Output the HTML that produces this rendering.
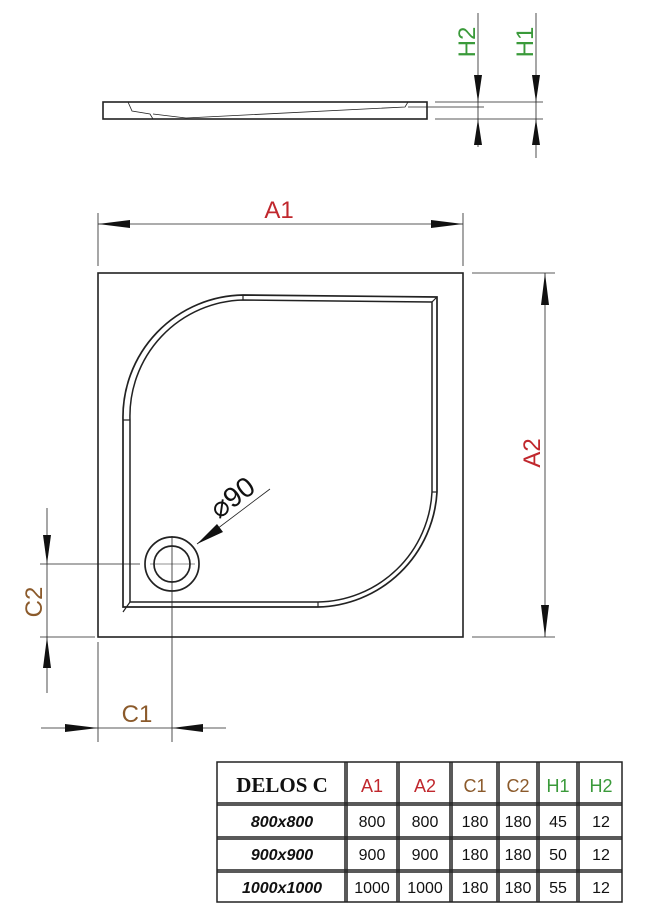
<!DOCTYPE html>
<html><head><style>
body{margin:0;background:#fff;}
svg{display:block;}
</style></head><body>
<svg width="650" height="915" xmlns="http://www.w3.org/2000/svg" font-family="Liberation Sans, sans-serif">
<g stroke="#222" fill="none" stroke-width="1.2">
<!-- side view -->
<rect x="103" y="102" width="324" height="17" stroke-width="1.6"/>
<path d="M128 102 L132 111 L150 114 L153 119 M153 114 L186 118 M408 102 L405 107 L186 118" stroke-width="0.8"/>
<line x1="408" y1="107" x2="484" y2="107" stroke-width="0.8"/>
<line x1="435" y1="102" x2="543" y2="102" stroke-width="0.8"/>
<line x1="435" y1="119" x2="543" y2="119" stroke-width="0.8"/>
<line x1="478" y1="13" x2="478" y2="147" stroke-width="0.8"/>
<line x1="536" y1="13" x2="536" y2="158" stroke-width="0.8"/>
<!-- main square -->
<rect x="98" y="273" width="365" height="364" stroke-width="1.6"/>
<!-- inner shape -->
<path d="M243 295 L437 297 L437 492 A122 122 0 0 1 318 607 L123 607 L123 420 A122 122 0 0 1 243 295 Z" stroke-width="1.7"/>
<path d="M243 300 L432 302 L432 492 A116 116 0 0 1 318 602 L130 602 L130 420 A116 116 0 0 1 243 300 Z" stroke-width="1.5"/>
<line x1="243" y1="295" x2="243" y2="300"/><line x1="437" y1="492" x2="432" y2="492"/>
<line x1="318" y1="607" x2="318" y2="602"/><line x1="123" y1="420" x2="130" y2="420"/>
<line x1="437" y1="297" x2="432" y2="302"/><line x1="123" y1="612" x2="130" y2="602"/>
<!-- drain -->
<circle cx="172" cy="564" r="27" stroke-width="1.7"/>
<circle cx="172" cy="564" r="18" stroke-width="1.7"/>
<line x1="172" y1="536" x2="172" y2="742" stroke-width="0.8"/>
<line x1="40" y1="564" x2="140" y2="564" stroke-width="0.8"/>
<line x1="150" y1="564" x2="195" y2="564" stroke-width="0.6"/>
<line x1="270" y1="489" x2="197" y2="544" stroke-width="0.8"/>
<!-- dims -->
<line x1="98" y1="213" x2="98" y2="266" stroke-width="0.8"/>
<line x1="463" y1="213" x2="463" y2="266" stroke-width="0.8"/>
<line x1="98" y1="224" x2="463" y2="224" stroke-width="0.8"/>
<line x1="472" y1="273" x2="555" y2="273" stroke-width="0.8"/>
<line x1="472" y1="637" x2="555" y2="637" stroke-width="0.8"/>
<line x1="545" y1="273" x2="545" y2="637" stroke-width="0.8"/>
<line x1="47" y1="508" x2="47" y2="693" stroke-width="0.8"/>
<line x1="40" y1="637" x2="95" y2="637" stroke-width="0.8"/>
<line x1="98" y1="642" x2="98" y2="742" stroke-width="0.8"/>
<line x1="41" y1="728" x2="226" y2="728" stroke-width="0.8"/>
</g>
<g fill="#111">
<polygon points="478,102 474,75 482,75"/><polygon points="478,119 474,145 482,145"/>
<polygon points="536,102 532,75 540,75"/><polygon points="536,119 532,145 540,145"/>
<polygon points="98,224 130,220 130,228"/><polygon points="463,224 431,220 431,228"/>
<polygon points="545,273 541,305 549,305"/><polygon points="545,637 541,605 549,605"/>
<polygon points="47,564 43,535 51,535"/><polygon points="47,637 43,668 51,668"/>
<polygon points="98,728 65,724 65,732"/><polygon points="172,728 203,724 203,732"/>
<polygon points="197,544 217,524 223,532"/>
</g>
<g font-size="24" text-anchor="middle">
<text transform="translate(475,42) rotate(-90)" fill="#3a9a3a">H2</text>
<text transform="translate(533,42) rotate(-90)" fill="#3a9a3a">H1</text>
<text x="279" y="218" fill="#c0272d">A1</text>
<text transform="translate(540,453) rotate(-90)" fill="#c0272d">A2</text>
<text transform="translate(42,602) rotate(-90)" fill="#8b5a2b">C2</text>
<text x="137" y="722" fill="#8b5a2b">C1</text>
<text transform="translate(238,505) rotate(-37)" fill="#111" font-size="28">⌀90</text>
</g>
<!-- table -->
<g stroke="#222" fill="none" stroke-width="1.5">
<rect x="217" y="762" width="405" height="140"/>
<line x1="217" y1="803" x2="622" y2="803"/><line x1="217" y1="805" x2="622" y2="805"/>
<line x1="217" y1="837" x2="622" y2="837"/><line x1="217" y1="839" x2="622" y2="839"/>
<line x1="217" y1="870" x2="622" y2="870"/><line x1="217" y1="872" x2="622" y2="872"/>
<line x1="345" y1="762" x2="345" y2="902"/><line x1="347" y1="762" x2="347" y2="902"/>
<line x1="397" y1="762" x2="397" y2="902"/><line x1="399" y1="762" x2="399" y2="902"/>
<line x1="450" y1="762" x2="450" y2="902"/><line x1="452" y1="762" x2="452" y2="902"/>
<line x1="497" y1="762" x2="497" y2="902"/><line x1="499" y1="762" x2="499" y2="902"/>
<line x1="537" y1="762" x2="537" y2="902"/><line x1="539" y1="762" x2="539" y2="902"/>
<line x1="577" y1="762" x2="577" y2="902"/><line x1="579" y1="762" x2="579" y2="902"/>
</g>
<g font-size="18" text-anchor="middle">
<text x="282" y="792" font-family="Liberation Serif, serif" font-weight="bold" font-size="21" fill="#111">DELOS C</text>
<text x="372" y="792" fill="#c0272d">A1</text>
<text x="425" y="792" fill="#c0272d">A2</text>
<text x="475" y="792" fill="#8b5a2b">C1</text>
<text x="518" y="792" fill="#8b5a2b">C2</text>
<text x="558" y="792" fill="#3a9a3a">H1</text>
<text x="601" y="792" fill="#3a9a3a">H2</text>
</g>
<g font-size="16" text-anchor="middle" fill="#111">
<g font-weight="bold" font-style="italic">
<text x="282" y="827">800x800</text>
<text x="282" y="860">900x900</text>
<text x="282" y="893">1000x1000</text>
</g>
<text x="372" y="827">800</text><text x="425" y="827">800</text><text x="475" y="827">180</text><text x="518" y="827">180</text><text x="558" y="827">45</text><text x="601" y="827">12</text>
<text x="372" y="860">900</text><text x="425" y="860">900</text><text x="475" y="860">180</text><text x="518" y="860">180</text><text x="558" y="860">50</text><text x="601" y="860">12</text>
<text x="372" y="893">1000</text><text x="425" y="893">1000</text><text x="475" y="893">180</text><text x="518" y="893">180</text><text x="558" y="893">55</text><text x="601" y="893">12</text>
</g>
</svg>
</body></html>
